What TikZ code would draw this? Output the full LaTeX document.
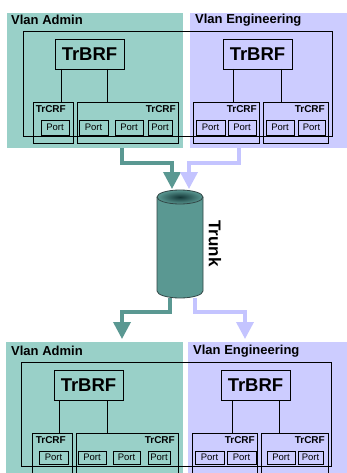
\documentclass[tikz,border=0pt]{standalone}
\usepackage{fontspec}
\setmainfont{Liberation Sans}
\usetikzlibrary{arrows.meta,calc}
\definecolor{tealbg}{RGB}{153,208,200}
\definecolor{lavbg}{RGB}{204,204,255}
\definecolor{tealdark}{RGB}{90,152,146}
\definecolor{lavarrow}{RGB}{196,196,255}
\definecolor{cylline}{RGB}{50,70,70}
\definecolor{cylhole}{RGB}{20,55,55}
\newcommand\rnode[6]{%
  \pgfmathsetmacro\rnX{(#3+#5)/2}\pgfmathsetmacro\rnY{(#4+#6)/2}%
  \pgfmathsetmacro\rnW{#5-#3}\pgfmathsetmacro\rnH{#6-#4}%
  \node[#1,minimum width=\rnW pt,minimum height=\rnH pt] (#2) at (\rnX,\rnY) {};}
\tikzset{
  bgbox/.style={inner sep=0pt,outer sep=0pt,draw=none},
  framebox/.style={draw=black,line width=0.75pt,inner sep=0pt,outer sep=0pt},
  vlan/.style={font=\bfseries\fontsize{13}{13}\selectfont,inner sep=0pt,anchor=base west},
  brf/.style={font=\bfseries\fontsize{18.5}{18}\selectfont,inner sep=0pt},
  crf/.style={font=\bfseries\fontsize{10}{10}\selectfont,inner sep=0pt,anchor=north east},
  porttxt/.style={font=\fontsize{9.5}{9.5}\selectfont,inner sep=0pt},
  link/.style={draw=black,line width=0.75pt},
  tealarr/.style={draw=tealdark,line width=3.5pt,-{Triangle[width=17pt,length=17pt]}},
  lavarr/.style={draw=lavarrow,line width=3.5pt,-{Triangle[width=17pt,length=17pt]}},
}
\begin{document}
\begin{tikzpicture}[x=1pt,y=-1pt]
\useasboundingbox (0,0) rectangle (347,473);
\fill[white] (0,0) rectangle (347,473);
% ---------- top panel ----------
\rnode{bgbox,fill=tealbg}{tealT}{7}{13}{183}{148}
\rnode{bgbox,fill=lavbg}{lavT}{190}{13}{347}{148}
\node[vlan] (vaT) at (11,25) {Vlan Admin};
\node[vlan] (veT) at (195,24) {Vlan Engineering};
\begin{scope}[name prefix=t-]
\rnode{framebox}{outer}{23}{31}{332}{136}
\rnode{framebox}{brfL}{55}{39}{124}{69}
\rnode{framebox}{brfR}{223}{39}{292}{69}
\node[brf] at (brfL) {TrBRF};
\node[brf] at (brfR) {TrBRF};
\rnode{framebox}{c1}{33}{102}{73}{143}
\rnode{framebox}{c2}{77}{102}{178}{143}
\rnode{framebox}{c3}{193}{102}{259}{143}
\rnode{framebox}{c4}{263}{102}{328}{143}
\node[crf] (l1) at (66,105) {TrCRF};
\node[crf] (l2) at (176,105) {TrCRF};
\node[crf] (l3) at (257,105) {TrCRF};
\node[crf] (l4) at (325,105) {TrCRF};
\rnode{framebox}{p1}{41}{120}{69}{135}
\rnode{framebox}{p2}{79}{120}{108}{135}
\rnode{framebox}{p3}{115}{120}{143}{135}
\rnode{framebox}{p4}{148}{120}{172}{135}
\rnode{framebox}{p5}{196}{120}{225}{135}
\rnode{framebox}{p6}{228}{120}{256}{135}
\rnode{framebox}{p7}{266}{120}{294}{135}
\rnode{framebox}{p8}{298}{120}{325}{135}
\foreach \p in {p1,p2,p3,p4,p5,p6,p7,p8} \node[porttxt] at (\p) {Port};
\draw[link] ([xshift=6pt]brfL.south west) -- ([xshift=6pt]brfL.south west |- c1.north);
\draw[link] ([xshift=-17pt]brfL.south east) -- ([xshift=-17pt]brfL.south east |- c2.north);
\draw[link] ([xshift=10pt]brfR.south west) -- ([xshift=10pt]brfR.south west |- c3.north);
\draw[link] ([xshift=-11pt]brfR.south east) -- ([xshift=-11pt]brfR.south east |- c4.north);
\end{scope}
% ---------- bottom panel ----------
\rnode{bgbox,fill=tealbg}{tealB}{6}{342}{183}{480}
\rnode{bgbox,fill=lavbg}{lavB}{188}{342}{347}{480}
\node[vlan] (vaB) at (11,355) {Vlan Admin};
\node[vlan] (veB) at (193,354) {Vlan Engineering};
\begin{scope}[name prefix=b-]
\rnode{framebox}{outer}{21}{362}{331}{466}
\rnode{framebox}{brfL}{54}{370}{123}{400}
\rnode{framebox}{brfR}{221}{370}{290}{400}
\node[brf] at (brfL) {TrBRF};
\node[brf] at (brfR) {TrBRF};
\rnode{framebox}{c1}{32}{433}{72}{476}
\rnode{framebox}{c2}{76}{433}{178}{476}
\rnode{framebox}{c3}{192}{433}{257}{476}
\rnode{framebox}{c4}{261}{433}{328}{476}
\node[crf] (l1) at (66,436) {TrCRF};
\node[crf] (l2) at (175,436) {TrCRF};
\node[crf] (l3) at (255,436) {TrCRF};
\node[crf] (l4) at (325,436) {TrCRF};
\rnode{framebox}{p1}{39}{451}{68}{464}
\rnode{framebox}{p2}{78}{451}{106}{464}
\rnode{framebox}{p3}{113}{451}{140}{464}
\rnode{framebox}{p4}{148}{451}{170}{464}
\rnode{framebox}{p5}{195}{451}{224}{464}
\rnode{framebox}{p6}{227}{451}{256}{464}
\rnode{framebox}{p7}{267}{451}{295}{464}
\rnode{framebox}{p8}{298}{451}{323}{464}
\foreach \p in {p1,p2,p3,p4,p5,p6,p7,p8} \node[porttxt] at (\p) {Port};
\draw[link] ([xshift=5pt]brfL.south west) -- ([xshift=5pt]brfL.south west |- c1.north);
\draw[link] ([xshift=-16pt]brfL.south east) -- ([xshift=-16pt]brfL.south east |- c2.north);
\draw[link] ([xshift=11pt]brfR.south west) -- ([xshift=11pt]brfR.south west |- c3.north);
\draw[link] ([xshift=-11pt]brfR.south east) -- ([xshift=-11pt]brfR.south east |- c4.north);
\end{scope}
% ---------- trunk cylinder ----------
\node[inner sep=0pt,outer sep=0pt,minimum width=46pt,minimum height=107pt] (cyl) at (180,244.5) {};
\fill[tealdark] (157,197) -- (157,291) arc[start angle=180,end angle=0,x radius=23,y radius=7] -- (203,197) -- cycle;
\draw[cylline,line width=0.8pt] (157,197) -- (157,291) arc[start angle=180,end angle=0,x radius=23,y radius=7] -- (203,197);
\shade[inner color=cylhole,outer color=tealdark] (180,197) ellipse[x radius=23,y radius=7];
\draw[cylline,line width=0.8pt] (180,197) ellipse[x radius=23,y radius=7];
\node[font=\bfseries\fontsize{17}{17}\selectfont,rotate=-90,inner sep=0pt] (trunk) at (215,243.5) {Trunk};
% ---------- arrows ----------
\coordinate (tipT1) at (172,189);
\coordinate (tipT2) at (189,189);
\coordinate (tipB1) at (122,339);
\coordinate (tipB2) at (245,339);
\draw[tealarr] ([xshift=27pt]tealT.south) -- ++(0,15) -| (tipT1);
\draw[lavarr] ([xshift=-29.5pt]lavT.south) -- ++(0,15) -| (tipT2);
\draw[tealarr] ([xshift=-10pt]cyl.south) -- ++(0,14) -| (tipB1);
\draw[lavarr] ([xshift=15pt]cyl.south) -- ++(0,14) -| (tipB2);
\end{tikzpicture}
\end{document}
